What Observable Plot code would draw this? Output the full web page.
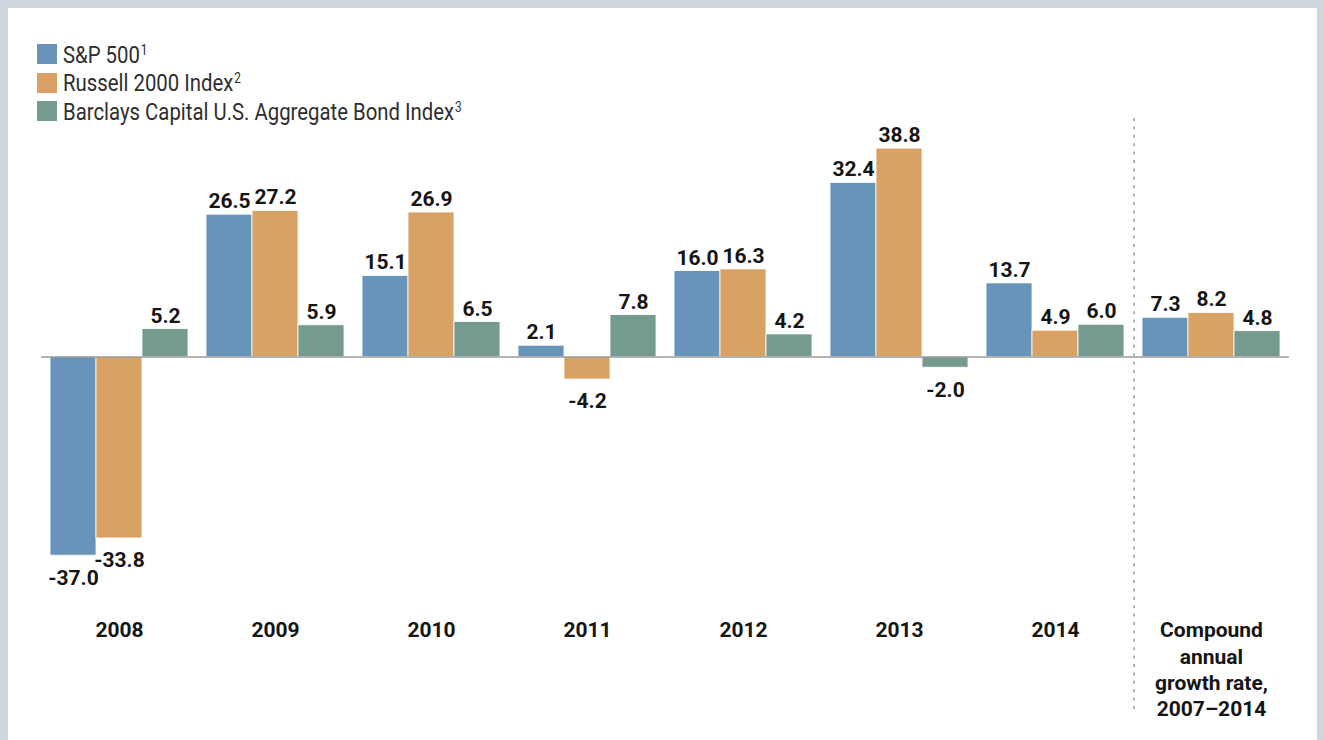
<!DOCTYPE html>
<html>
<head>
<meta charset="utf-8">
<script src="https://cdn.jsdelivr.net/npm/d3@7"></script>
<script src="https://cdn.jsdelivr.net/npm/@observablehq/plot@0.6"></script>
<style>
  html, body { margin: 0; padding: 0; background: #cfd5dd; width: 1324px; height: 740px; overflow: hidden; }
  #panel { position: absolute; left: 8px; top: 8px; width: 1309px; height: 740px; background: #ffffff; }
  #chart { position: absolute; left: 0; top: 0; }
  #legend { position: absolute; left: 37px; top: 40px; font-family: Roboto, "DejaVu Sans", sans-serif; font-size: 24.5px; color: #2e2e2e; }
  .row { display: flex; align-items: center; height: 28.5px; white-space: nowrap; }
  .sw { width: 20px; height: 20px; margin-right: 6px; flex: none; }
  .lab { display: inline-block; transform: scaleX(0.83); transform-origin: left center; }
  .sup { font-size: 0.58em; position: relative; top: -0.55em; margin-left: 1px; }
</style>
</head>
<body>
<div id="panel"></div>
<div id="chart"></div>
<div id="legend"></div>
<script>
// ---- data ----
const categories = ["2008", "2009", "2010", "2011", "2012", "2013", "2014", "CAGR 2007–2014"];
const categoryLabels = ["2008", "2009", "2010", "2011", "2012", "2013", "2014", "Compound\nannual\ngrowth rate,\n2007–2014"];
const series = ["S&P 500", "Russell 2000 Index", "Barclays Capital U.S. Aggregate Bond Index"];
const seriesNotes = ["1", "2", "3"];
const sp500 = [-37.0, 26.5, 15.1, 2.1, 16.0, 32.4, 13.7, 7.3];
const russell2000 = [-33.8, 27.2, 26.9, -4.2, 16.3, 38.8, 4.9, 8.2];
const barclays = [5.2, 5.9, 6.5, 7.8, 4.2, -2.0, 6.0, 4.8];
const colors = ["#6994ba", "#d8a264", "#759a8f"];

const values = [sp500, russell2000, barclays];
const rows = [];
categories.forEach((c, i) => series.forEach((s, j) => rows.push({category: c, series: s, value: values[j][i]})));
const labelOf = new Map(categories.map((c, i) => [c, categoryLabels[i]]));

// ---- layout ----
const W = 1324, H = 740;
const mL = 38, mR = 33, mT = 118;
const yMin = -48, yMax = 44.41, pxPerUnit = 5.37;
const mB = H - mT - (yMax - yMin) * pxPerUnit;
const pOuter = 0.17;
const facetW = (W - mL - mR) / categories.length;
const bw = facetW / (series.length + 2 * pOuter);
const font = "Roboto, 'DejaVu Sans', sans-serif";

const chart = Plot.plot({
  width: W,
  height: H,
  marginLeft: mL,
  marginRight: mR,
  marginTop: mT,
  marginBottom: mB,
  style: {background: "transparent", fontFamily: font, overflow: "visible"},
  fx: {domain: categories, padding: 0, axis: null},
  x: {domain: series, paddingInner: 0, paddingOuter: pOuter, axis: null},
  y: {domain: [yMin, yMax], axis: null},
  color: {domain: series, range: colors},
  marks: [
    Plot.barY(rows, {fx: "category", x: "series", y: "value", fill: "series", stroke: "#ffffff", strokeWidth: 0.8}),
    Plot.ruleY([0], {stroke: "#9a9a9a", strokeWidth: 1.5}),
    Plot.text(rows.filter(d => d.value >= 0), {
      fx: "category", x: "series", y: "value", text: d => d.value.toFixed(1),
      lineAnchor: "bottom", dy: -6.5, fontSize: 21, fontWeight: "bold", fill: "#151515"
    }),
    Plot.text(rows.filter(d => d.value < 0), {
      fx: "category", x: "series", y: "value", text: d => d.value.toFixed(1),
      lineAnchor: "top", dy: 14, fontSize: 21, fontWeight: "bold", fill: "#151515"
    }),
    Plot.text(categories, {
      fx: d => d, text: d => labelOf.get(d), frameAnchor: "bottom",
      lineAnchor: "top", dy: 4, lineHeight: 1.25, fontSize: 21, fontWeight: "bold", fill: "#151515"
    }),
    Plot.ruleX([{category: categories[categories.length - 1], series: series[0]}], {
      fx: "category", x: "series", y1: yMax, y2: -66.6, dx: -bw * (0.5 + pOuter),
      stroke: "#9a9a9a", strokeWidth: 1.5, strokeDasharray: "3,5.4"
    })
  ]
});
document.getElementById("chart").appendChild(chart);

// ---- legend ----
const legend = document.getElementById("legend");
series.forEach((s, j) => {
  const row = document.createElement("div");
  row.className = "row";
  const sw = document.createElement("span");
  sw.className = "sw";
  sw.style.background = colors[j];
  const label = document.createElement("span");
  label.className = "lab";
  label.textContent = s;
  const sup = document.createElement("span");
  sup.className = "sup";
  sup.textContent = seriesNotes[j];
  label.appendChild(sup);
  row.appendChild(sw);
  row.appendChild(label);
  legend.appendChild(row);
});
</script>
</body>
</html>
